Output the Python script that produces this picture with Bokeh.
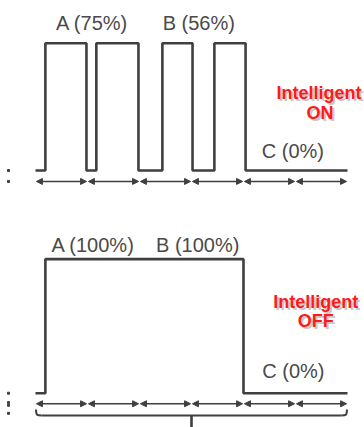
from bokeh.plotting import figure
from bokeh.layouts import column
from bokeh.models import Arrow, NormalHead, ColumnDataSource
from bokeh.core.properties import value
from bokeh.embed import file_html
from bokeh.resources import INLINE

# ---- data ----
periods = [0, 1, 2, 3, 4, 5, 6]

on_times = [0, 0.19, 0.98, 1.17, 1.98, 2.44, 3.02, 3.44, 4.04, 6.0]
on_levels = [0, 1, 0, 1, 0, 1, 0, 1, 0, 0]

off_times = [0, 0.19, 4.0, 6.0]
off_levels = [0, 1, 0, 0]

on_labels = ["A (75%)", "B (56%)", "C (0%)"]
on_label_x = [1.09, 3.14, 4.95]
on_label_y = [1.162, 1.162, 0.157]

off_labels = ["A (100%)", "B (100%)", "C (0%)"]
off_label_x = [1.11, 3.12, 4.96]
off_label_y = [1.102, 1.102, 0.162]

on_mode = ["Intelligent", "ON"]
on_mode_x = [5.45, 5.47]
on_mode_y = [0.605, 0.448]

off_mode = ["Intelligent", "OFF"]
off_mode_x = [5.39, 5.39]
off_mode_y = [0.684, 0.535]

LINE = "#3f3f3f"
TEXT = "#4a4a4a"
RED = "#ff1a1a"
FONT = value("Liberation Sans")

X0, X1 = -0.673, 6.327


def make_fig(h, y0, y1):
    p = figure(width=364, height=h, x_range=(X0, X1), y_range=(y0, y1),
               output_backend="svg", toolbar_location=None, min_border=0)
    p.axis.visible = False
    p.grid.visible = False
    p.outline_line_color = None
    p.background_fill_color = "white"
    p.border_fill_color = "white"
    return p


def add_arrows(p, y):
    gap = 0.018
    xs = [periods[i] + gap for i in range(len(periods) - 1)]
    xe = [periods[i + 1] - gap for i in range(len(periods) - 1)]
    src = ColumnDataSource(dict(xs=xs, xe=xe, ys=[y] * len(xs), ye=[y] * len(xs)))
    p.add_layout(Arrow(x_start="xs", y_start="ys", x_end="xe", y_end="ye", source=src,
                       line_color=LINE, line_width=1.6,
                       start=NormalHead(size=6, fill_color=LINE, line_color=LINE, line_width=1),
                       end=NormalHead(size=6, fill_color=LINE, line_color=LINE, line_width=1)))


def add_texts(p, labels, lx, ly, mode, mx, my):
    p.text(x=lx, y=ly, text=labels, text_font=FONT, text_font_size="20px",
           text_color=TEXT, text_align="center", text_baseline="middle")
    # shadow
    p.text(x=mx, y=my, text=mode, text_font=FONT, text_font_size="18px",
           text_font_style="bold", text_color="#9a9a9a", text_alpha=0.55,
           text_align="center", text_baseline="middle", x_offset=2, y_offset=2)
    p.text(x=mx, y=my, text=mode, text_font=FONT, text_font_size="18px",
           text_font_style="bold", text_color=RED,
           text_align="center", text_baseline="middle")


# ---- top: Intelligent ON ----
top = make_fig(208, -0.2985, 1.3354)
top.step(on_times, on_levels, mode="after", line_color=LINE, line_width=2.6)
add_arrows(top, -0.086)
add_texts(top, on_labels, on_label_x, on_label_y, on_mode, on_mode_x, on_mode_y)
top.scatter([-0.519, -0.519], [0.0, -0.086], marker="square", size=2, color=LINE)

# ---- bottom: Intelligent OFF ----
bot = make_fig(219, -0.256, 1.378)
bot.step(off_times, off_levels, mode="after", line_color=LINE, line_width=2.6)
add_arrows(bot, -0.079)
add_texts(bot, off_labels, off_label_x, off_label_y, off_mode, off_mode_x, off_mode_y)
bot.scatter([-0.519, -0.519, -0.519, -0.519], [0.0, -0.07, -0.09, -0.15],
            marker="square", size=2, color=LINE)

# brace under the arrows
t0, t1 = periods[0], periods[-1]
tc = (t0 + t1) / 2
yt, yb = -0.122, -0.166
r = 0.12
bot.bezier(x0=[t0 + 0.01, t1 - 0.01], y0=[yt, yt], x1=[t0 + r, t1 - r], y1=[yb, yb],
           cx0=[t0 + 0.01, t1 - 0.01], cy0=[yb, yb], cx1=[t0 + 0.03, t1 - 0.03], cy1=[yb, yb],
           line_color=LINE, line_width=2)
bot.line([t0 + r, t1 - r], [yb, yb], line_color=LINE, line_width=2)
bot.line([tc, tc], [yb, -0.26], line_color=LINE, line_width=2.6)

layout = column(top, bot, spacing=0)
open("out.html", "w").write(file_html(layout, INLINE))
